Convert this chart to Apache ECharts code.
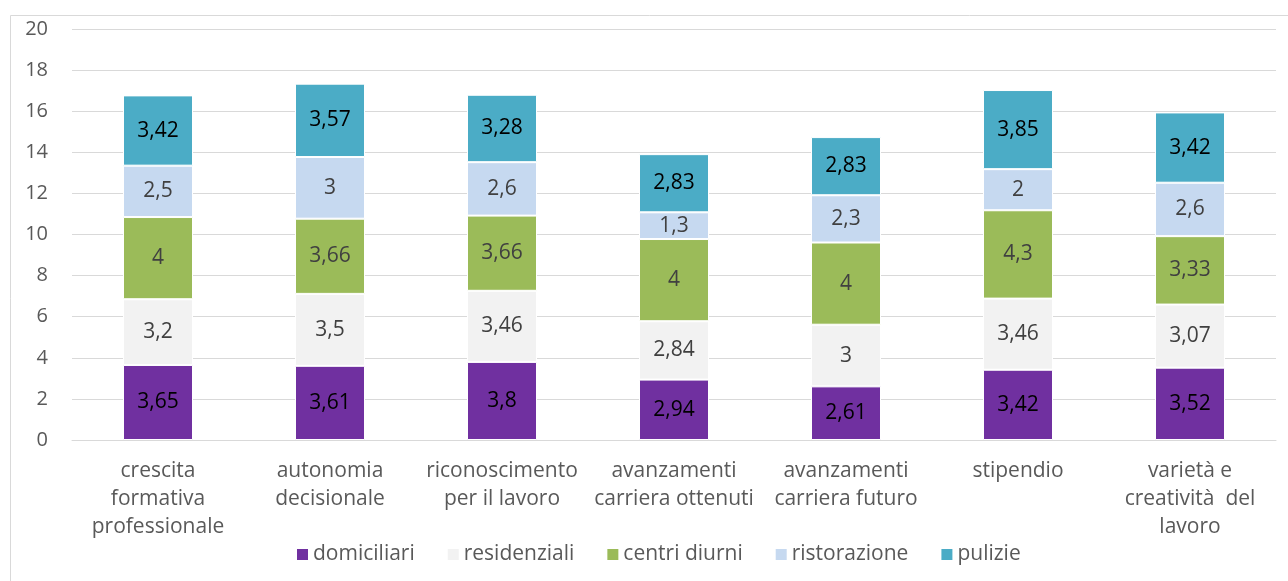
<!DOCTYPE html>
<html><head><meta charset="utf-8">
<script src="https://cdn.jsdelivr.net/npm/echarts@6/dist/echarts.min.js"></script>
<style>html,body{margin:0;padding:0;background:#fff}#c{width:1288px;height:581px}</style>
</head><body><div id="c"></div>
<script>
const categories = ["crescita\nformativa\nprofessionale","autonomia\ndecisionale","riconoscimento\nper il lavoro","avanzamenti\ncarriera ottenuti","avanzamenti\ncarriera futuro","stipendio","varietà e\ncreatività  del\nlavoro"];
const domiciliari = [3.65,3.61,3.8,2.94,2.61,3.42,3.52];
const residenziali = [3.2,3.5,3.46,2.84,3,3.46,3.07];
const centriDiurni = [4,3.66,3.66,4,4,4.3,3.33];
const ristorazione = [2.5,3,2.6,1.3,2.3,2,2.6];
const pulizie = [3.42,3.57,3.28,2.83,2.83,3.85,3.42];
const seriesNames = ["domiciliari","residenziali","centri diurni","ristorazione","pulizie"];
const colors = ["#7030A0","#F2F2F2","#9BBB59","#C6D9F0","#4BACC6"];
const labelColors = ["#000","#404040","#404040","#404040","#000"];
const dataArr = [domiciliari,residenziali,centriDiurni,ristorazione,pulizie];
const font = "'Open Sans', 'Noto Sans', sans-serif";
const chart = echarts.init(document.getElementById('c'));
chart.setOption({
  animation:false,
  textStyle:{fontFamily:font},
  graphic:[{type:'rect',shape:{x:10.5,y:15.5,width:1290,height:600},style:{fill:'none',stroke:'#d9d9d9',lineWidth:1},silent:true}],
  grid:{left:72,right:12,top:29,bottom:141},
  legend:{bottom:11,left:290,itemWidth:13,itemHeight:13,itemGap:31,icon:'rect',
    textStyle:{color:'#595959',fontSize:21,fontFamily:font,padding:[0,0,0,-1]},data:seriesNames},
  xAxis:{type:'category',data:categories,axisTick:{show:false},
    axisLine:{lineStyle:{color:'#d9d9d9'}},
    axisLabel:{color:'#595959',fontSize:21,lineHeight:28,margin:17,interval:0,fontFamily:font}},
  yAxis:{type:'value',min:0,max:20,interval:2,
    axisLabel:{color:'#595959',fontSize:20,margin:24,fontFamily:font},
    splitLine:{lineStyle:{color:'#d9d9d9'}}},
  series: seriesNames.map((n,i)=>({
    name:n,type:'bar',stack:'s',barWidth:70,data:dataArr[i],
    itemStyle:{color:colors[i],borderColor:'#fff',borderWidth:1},
    label:{show:true,position:'inside',color:labelColors[i],fontSize:21,fontFamily:font,
      formatter:p=>String(p.value).replace('.',',')}
  }))
});
</script></body></html>
